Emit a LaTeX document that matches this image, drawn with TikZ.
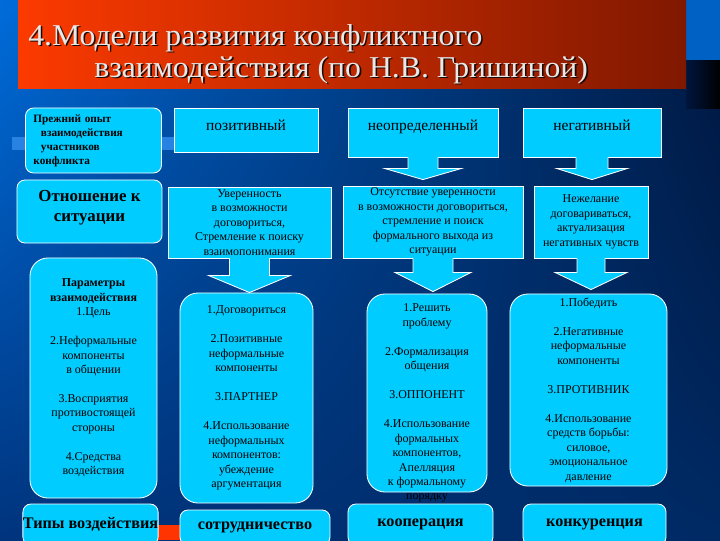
\documentclass[tikz,border=0pt]{standalone}
\usepackage{fontspec}
\setmainfont{Liberation Serif}
\newfontfamily\titlefont[FakeStretch=1.05]{Liberation Serif}
\usetikzlibrary{positioning,calc,shadings}
\definecolor{SlideCyan}{RGB}{0,204,255}
\definecolor{BgUL}{RGB}{0,108,218}
\definecolor{BgUR}{RGB}{0,22,62}
\definecolor{BgLL}{RGB}{0,52,125}
\definecolor{BgLR}{RGB}{0,42,100}
\definecolor{BandBlue}{RGB}{40,130,225}
\definecolor{TitleL}{RGB}{252,58,0}
\definecolor{TitleR}{RGB}{128,24,0}
\definecolor{TitleText}{RGB}{232,232,232}
\definecolor{TitleShade}{RGB}{25,10,5}
\definecolor{BarRed}{RGB}{255,52,0}

\begin{document}
\begin{tikzpicture}[x=0.025cm, y=-0.025cm,
  every node/.style={align=center, text=black},
  plainbox/.style={draw=white, line width=0.6pt, fill=SlideCyan, inner xsep=1pt, inner ysep=0pt},
  roundbox/.style={plainbox, rounded corners=0.2cm},
  bigbox/.style={plainbox, rounded corners=0.45cm},
  small/.style={font=\fontsize{8.5}{10.3}\selectfont},
  toplabel/.style={font=\fontsize{11}{13}\selectfont},
  heavy/.style={font=\fontsize{11.5}{14}\selectfont\bfseries},
  title/.style={font=\titlefont\fontsize{21.5}{23}\selectfont, anchor=base west, inner sep=0pt}]
  \useasboundingbox (0,0) rectangle (720,540);
  % slide background
  \shade[upper left=BgUL, upper right=BgUR, lower left=BgLL, lower right=BgLR] (0,0) rectangle (720,540);
  \fill[BgUL!90!black] (686,0) rectangle (720,60);
  \shade[left color=BgUR, right color=black] (686,60) rectangle (720,108);
  \fill[BandBlue] (12,137) rectangle (175,150);
  \fill[BarRed] (154,525) rectangle (330,540);
  \shade[left color=TitleL, right color=TitleR] (18,0) rectangle (686,88);
  \foreach \off/\col/\nm in {1.6/TitleShade/s, 0/TitleText/t} {
    \node[title, text=\col] (titleA\nm) at (28+\off,45+\off) {4.Модели развития конфликтного};
    \node[title, text=\col] (titleB\nm) at (94+\off,77+\off) {взаимодействия (по Н.В. Гришиной)};
  }

  % left column
  \node[roundbox, font=\fontsize{8}{10}\selectfont\bfseries, align=left, text width=3.0cm,
        inner xsep=0.2cm, minimum height=1.625cm] (experience) at (93.5,140.5)
    {Прежний опыт\\\ \ взаимодействия\\\ \ участников\\конфликта};
  \node[roundbox, font=\fontsize{12}{14}\selectfont\bfseries, minimum width=3.625cm,
        minimum height=1.575cm] (attitude) at (89.5,211.5)
    {Отношение к\\ситуации\\[-10pt]\strut};
  \node[bigbox, small, minimum width=3.175cm, minimum height=6cm] (params) at (93.5,378)
    {\textbf{Параметры}\\\textbf{взаимодействия}\\1.Цель\\~\\2.Неформальные\\компоненты\\в общении\\~\\3.Восприятия\\противостоящей\\стороны\\~\\4.Средства\\воздействия};
  \node[roundbox, heavy, minimum width=3.325cm, minimum height=1.025cm, inner xsep=0pt] (types) at (90.5,524.5)
    {Типы воздействия};

  % top row: outcome of previous experience
  \node[plainbox, toplabel, text depth=7pt, minimum width=3.6cm, minimum height=1.1cm] (positive) at (246,130)
    {позитивный};
  \node[plainbox, toplabel, text depth=10pt, minimum width=3.75cm, minimum height=1.225cm] (uncertain) at (423,132.5)
    {неопределенный};
  \node[plainbox, toplabel, text depth=10pt, minimum width=3.45cm, minimum height=1.225cm] (negative) at (592,132.5)
    {негативный};

  % second row: attitude to the situation
  \node[plainbox, small, minimum width=4.075cm, minimum height=1.775cm] (posattitude) at (249.5,222.5)
    {Уверенность\\в возможности\\договориться,\\Стремление к поиску\\взаимопонимания};
  \node[plainbox, small, minimum width=4.5cm, minimum height=1.8cm] (uncattitude) at (433,222)
    {Отсутствие уверенности\\в возможности договориться,\\стремление и поиск\\формального выхода из\\ситуации};
  \node[plainbox, small, minimum width=2.85cm, minimum height=1.8cm] (negattitude) at (591,222)
    {Нежелание\\договариваться,\\актуализация\\негативных чувств};

  % third row: parameters of each model
  \node[bigbox, small, minimum width=3.325cm, minimum height=5.25cm] (posparams) at (246.5,398)
    {1.Договориться\\~\\2.Позитивные\\неформальные\\компоненты\\~\\3.ПАРТНЕР\\~\\4.Использование\\неформальных\\компонентов:\\убеждение\\аргументация};
  \node[bigbox, small, minimum width=3.0cm, minimum height=4.95cm] (uncparams) at (427,393)
    {1.Решить\\проблему\\~\\2.Формализация\\общения\\~\\3.ОППОНЕНТ\\~\\4.Использование\\формальных\\компонентов,\\Апелляция\\к формальному\\порядку\\[-26pt]\strut};
  \node[bigbox, small, minimum width=3.925cm, minimum height=4.8cm] (negparams) at (588.5,390)
    {1.Победить\\~\\2.Негативные\\неформальные\\компоненты\\~\\3.ПРОТИВНИК\\~\\4.Использование\\средств борьбы:\\силовое,\\эмоциональное\\давление};

  % block arrows: source/target/half shaft/half head/shaft length/gap
  \foreach \src/\dst/\sw/\hw/\sl/\gap in {uncertain/uncattitude/15/38.5/11/6,
      negative/negattitude/16/35.5/11/6, posattitude/posparams/20/41/17/0,
      uncattitude/uncparams/20/38/14/2, negattitude/negparams/14/36/14/4} {
    \coordinate (tip) at ($(\src.south |- \dst.north)+(0,-\gap)$);
    \coordinate (stemL) at ($(\src.south)+(-\sw,\sl)$);
    \coordinate (stemR) at ($(\src.south)+(\sw,\sl)$);
    \coordinate (headL) at ($(\src.south)+(-\hw,\sl)$);
    \coordinate (headR) at ($(\src.south)+(\hw,\sl)$);
    \fill[SlideCyan] ($(\src.south)+(-\sw,-1)$) -- (stemL) -- (headL) -- (tip)
      -- (headR) -- (stemR) -- ($(\src.south)+(\sw,-1)$) -- cycle;
    \draw[white, line width=0.6pt] ($(\src.south)+(-\sw,0)$) -- (stemL) -- (headL) -- (tip)
      -- (headR) -- (stemR) -- ($(\src.south)+(\sw,0)$);
  }

  % bottom row: types of influence
  \node[roundbox, heavy, minimum width=3.75cm, minimum height=0.875cm] (cooperation) at (255,527.5)
    {сотрудничество};
  \node[roundbox, heavy, minimum width=3.625cm, minimum height=1.025cm] (cooperative) at (420.5,524.5)
    {кооперация};
  \node[roundbox, heavy, minimum width=3.575cm, minimum height=1.025cm] (competition) at (594.5,524.5)
    {конкуренция};
\end{tikzpicture}
\end{document}
